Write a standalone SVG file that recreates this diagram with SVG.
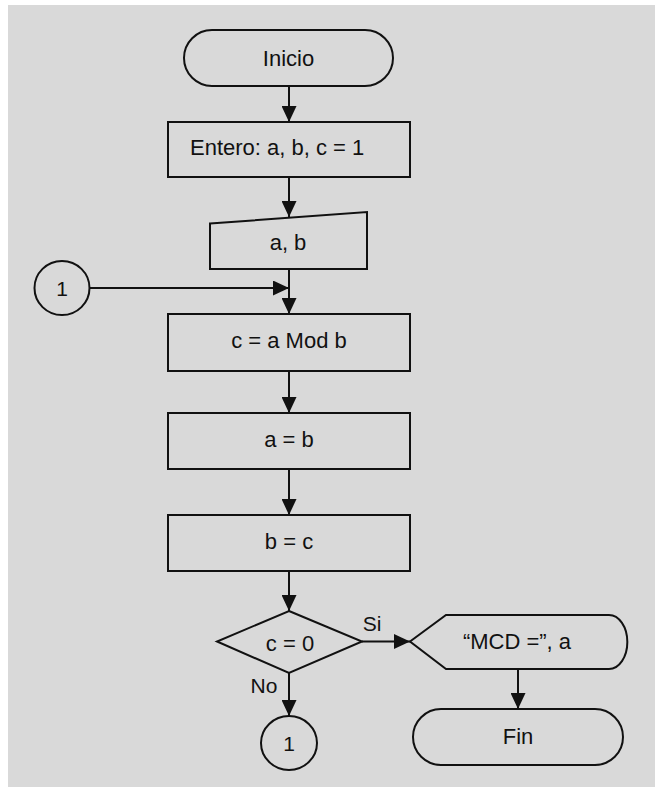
<svg xmlns="http://www.w3.org/2000/svg" width="655" height="787" viewBox="0 0 655 787">
  <style>
    .shape { fill: none; stroke: #111; stroke-width: 2; }
    .edge { fill: none; stroke: #111; stroke-width: 2; marker-end: url(#arrow); }
    .label { font-family: "Liberation Sans", Arial, sans-serif; font-size: 22px; fill: #111; text-anchor: middle; }
    .small { font-size: 21px; }
  </style>
  <defs>
    <marker id="arrow" markerUnits="userSpaceOnUse" markerWidth="16" markerHeight="15" refX="16" refY="7.5" orient="auto">
      <path d="M0,0 L16,7.5 L0,15 Z" fill="#111"/>
    </marker>
  </defs>

  <!-- page background -->
  <rect x="8" y="5" width="647" height="782" fill="#d9d9d9"/>

  <!-- connectors -->
  <g id="connectors">
    <line class="edge" x1="289" y1="86" x2="289" y2="122"/>
    <line class="edge" x1="289" y1="177" x2="289" y2="217"/>
    <line class="edge" x1="289" y1="269" x2="289" y2="314"/>
    <line class="edge" x1="89.5" y1="288" x2="289" y2="288"/>
    <line class="edge" x1="289" y1="371" x2="289" y2="413"/>
    <line class="edge" x1="289" y1="469" x2="289" y2="515"/>
    <line class="edge" x1="289" y1="571" x2="289" y2="611"/>
    <line class="edge" x1="289" y1="673" x2="289" y2="716"/>
    <line class="edge" x1="362" y1="641.5" x2="410" y2="641.5"/>
    <line class="edge" x1="518" y1="669" x2="518" y2="709"/>
    <text class="label small" x="372" y="631">Si</text>
    <text class="label small" x="264" y="693">No</text>
  </g>

  <!-- start -->
  <g id="inicio">
    <rect class="shape" x="184" y="30" width="209" height="56" rx="28" ry="28"/>
    <text class="label" x="288.5" y="66">Inicio</text>
  </g>

  <!-- declaration -->
  <g id="entero">
    <rect class="shape" x="168" y="122" width="242" height="55"/>
    <text class="label" x="190" y="155" text-anchor="start" style="text-anchor:start">Entero: a, b, c = 1</text>
  </g>

  <!-- manual input -->
  <g id="leer">
    <path class="shape" d="M210,223.5 L367,212 L367,269 L210,269 Z"/>
    <text class="label" x="288" y="250">a, b</text>
  </g>

  <!-- entry connector -->
  <g id="conector-entrada">
    <ellipse class="shape" cx="62" cy="288" rx="27.5" ry="27"/>
    <text class="label small" x="62" y="296">1</text>
  </g>

  <!-- process steps -->
  <g id="mod">
    <rect class="shape" x="168" y="314" width="242" height="57"/>
    <text class="label" x="289" y="348">c = a Mod b</text>
  </g>

  <g id="asigna-a">
    <rect class="shape" x="168" y="413" width="242" height="56"/>
    <text class="label" x="289" y="447">a = b</text>
  </g>

  <g id="asigna-b">
    <rect class="shape" x="168" y="515" width="242" height="56"/>
    <text class="label" x="289" y="549">b = c</text>
  </g>

  <!-- decision -->
  <g id="decision">
    <path class="shape" d="M289,611 L362,641.5 L289,673 L217,641.5 Z"/>
    <text class="label" x="290" y="651">c = 0</text>
  </g>

  <!-- loop-back connector -->
  <g id="conector-salida">
    <ellipse class="shape" cx="289" cy="743" rx="28" ry="27"/>
    <text class="label small" x="289" y="751">1</text>
  </g>

  <!-- display -->
  <g id="mostrar">
    <path class="shape" d="M410,641.5 L446,615 L609,615 A18,26.5 0 0 1 609,669 L446,669 Z"/>
    <text class="label" x="517" y="649">“MCD =”, a</text>
  </g>

  <!-- end -->
  <g id="fin">
    <rect class="shape" x="413" y="709" width="210" height="56" rx="28" ry="28"/>
    <text class="label" x="518" y="744">Fin</text>
  </g>
</svg>
